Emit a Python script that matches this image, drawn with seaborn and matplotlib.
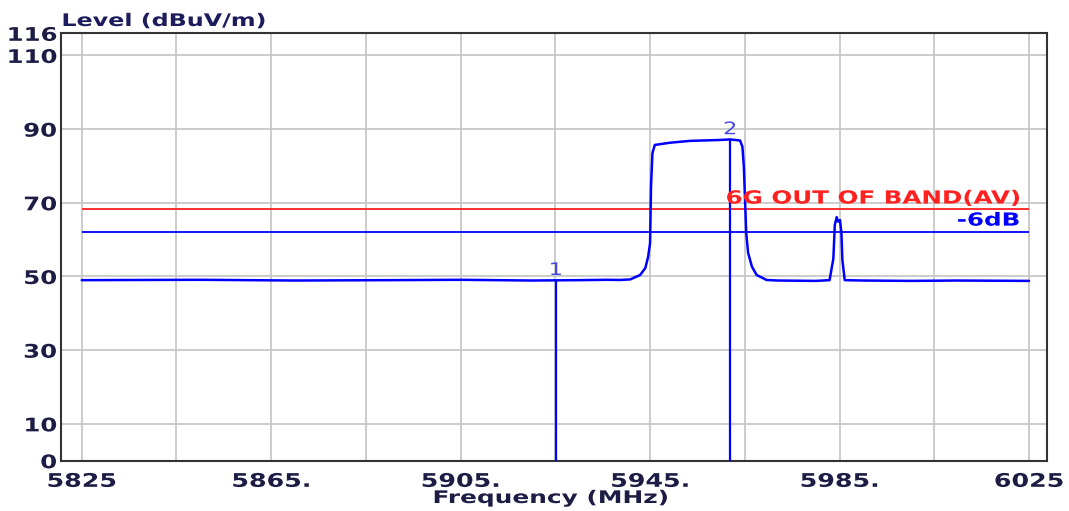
import matplotlib
matplotlib.use("Agg")
import matplotlib.pyplot as plt
import seaborn as sns
import pandas as pd
from matplotlib.patheffects import AbstractPathEffect
from matplotlib.transforms import Affine2D

# ---------------- data ----------------
freq_mhz = [5825.0, 5850.0, 5870.0, 5890.0, 5905.0, 5920.0, 5930.0, 5936.0,
            5938.65, 5940.8, 5942.9, 5944.0, 5944.6, 5945.0, 5945.2, 5945.5,
            5946.0, 5949.2, 5953.4, 5959.8, 5961.9, 5964.0, 5964.5, 5964.8,
            5965.3, 5965.7, 5966.5, 5967.5, 5969.6, 5972.0, 5980.0, 5982.9,
            5983.7, 5984.0, 5984.4, 5984.7, 5985.1, 5985.4, 5985.6, 5986.1,
            5990.0, 6000.0, 6010.0, 6025.0]
level_dbuv = [49.0, 49.1, 48.9, 49.0, 49.1, 48.9, 49.0, 49.1,
              49.05, 49.2, 50.4, 52.3, 55.4, 59.1, 74.4, 83.5,
              85.7, 86.3, 86.8, 87.05, 87.2, 86.9, 85.2, 79.8,
              61.8, 56.4, 52.7, 50.4, 49.05, 48.9, 48.8, 49.0,
              54.9, 64.0, 66.1, 64.9, 65.3, 61.8, 54.5, 49.0,
              48.9, 48.8, 48.9, 48.8]

marker_names = ["1", "2"]
marker_freq = [5925.1, 5961.9]
marker_level = [49.0, 87.2]

limit_names = ["6G OUT OF BAND(AV)", "-6dB"]
limit_level = [68.2, 62.2]

x_ticks = [5825, 5845, 5865, 5885, 5905, 5925, 5945, 5965, 5985, 6005, 6025]
x_tick_labels = ["5825", "", "5865.", "", "5905.", "", "5945.", "", "5985.", "", "6025"]
y_ticks = [0, 10, 30, 50, 70, 90, 110, 116]
y_tick_labels = ["0", "10", "30", "50", "70", "90", "110", "116"]

x_title = "Frequency (MHz)"
y_title = "Level (dBuV/m)"


# horizontal stretch of text glyphs (text stays real text)
class HStretch(AbstractPathEffect):
    def __init__(self, sx, anchor):
        super().__init__()
        self.sx = sx
        self.anchor = anchor

    def draw_path(self, renderer, gc, tpath, affine, rgbFace=None):
        ext = tpath.get_extents()
        cx = ext.x0 + self.anchor * (ext.x1 - ext.x0)
        pre = Affine2D().translate(-cx, 0).scale(self.sx, 1).translate(cx, 0)
        renderer.draw_path(gc, tpath, pre + affine, rgbFace)


sns.set_style("white")
plt.rcParams["font.family"] = ["DejaVu Sans"]

W, H = 1069, 511
fig = plt.figure(figsize=(W / 100, H / 100), dpi=100)
left, right, top, bottom = 61, 1046.7, 33.3, 460.7
ax = fig.add_axes([left / W, 1 - bottom / H, (right - left) / W, (bottom - top) / H])

df = pd.DataFrame({"freq": freq_mhz, "level": level_dbuv})
sns.lineplot(data=df, x="freq", y="level", ax=ax, color="#0000ff", lw=1.8,
             estimator=None, sort=False, zorder=4)

# limit lines
limit_colors = ["#ff2020", "#0000ff"]
ax.hlines(limit_level, x_ticks[0], x_ticks[-1], colors=limit_colors, lw=1.3, zorder=3)
for name, lvl, c in zip(limit_names, limit_level, limit_colors):
    t = ax.text(6023.0, lvl + 1.6, name, color=c, fontsize=13, fontweight="bold",
                ha="right", va="baseline", zorder=5)
    t.set_path_effects([HStretch(1.36, 1.0)])

# markers
ax.vlines(marker_freq, 0, marker_level, colors="#0000ff", lw=1.6, zorder=4)
for name, f, lvl in zip(marker_names, marker_freq, marker_level):
    t = ax.text(f, lvl + 1.4, name, color="#4848e0", fontsize=12.5,
                ha="center", va="baseline", zorder=5)
    t.set_path_effects([HStretch(1.3, 0.5)])

ax.set_xlim(5820.63, 6028.74)
ax.set_ylim(0, 116)
ax.set_xticks(x_ticks)
ax.set_xticklabels(x_tick_labels)
ax.set_yticks(y_ticks)
ax.set_yticklabels(y_tick_labels)

lab_color = "#1c1c44"
ax.tick_params(axis="both", length=0, labelsize=13.5, labelcolor=lab_color)
ax.tick_params(axis="y", pad=3)
ax.tick_params(axis="x", pad=8)
for lab in ax.get_yticklabels():
    lab.set_fontweight("bold")
    lab.set_path_effects([HStretch(1.3, 1.0)])
for lab in ax.get_xticklabels():
    lab.set_fontweight("bold")
    lab.set_path_effects([HStretch(1.35, 0.5)])

ax.grid(True, color="#c8c8c8", lw=1.3, zorder=0)
ax.set_axisbelow(True)
for sp in ax.spines.values():
    sp.set_visible(True)
    sp.set_color("#333333")
    sp.set_linewidth(1.5)

ax.set_xlabel(x_title, fontsize=12.5, fontweight="bold", color=lab_color, va="baseline")
ax.xaxis.set_label_coords((551 - left) / (right - left), (bottom - 503) / (bottom - top))
ax.xaxis.label.set_path_effects([HStretch(1.43, 0.5)])
ax.set_ylabel("")

yt = ax.text((62 - left) / (right - left), (bottom - 26) / (bottom - top), y_title,
             transform=ax.transAxes, fontsize=12.5, fontweight="bold", color="#1c1c5c",
             ha="left", va="baseline")
yt.set_path_effects([HStretch(1.37, 0.0)])

fig.savefig("out.png", dpi=100)
